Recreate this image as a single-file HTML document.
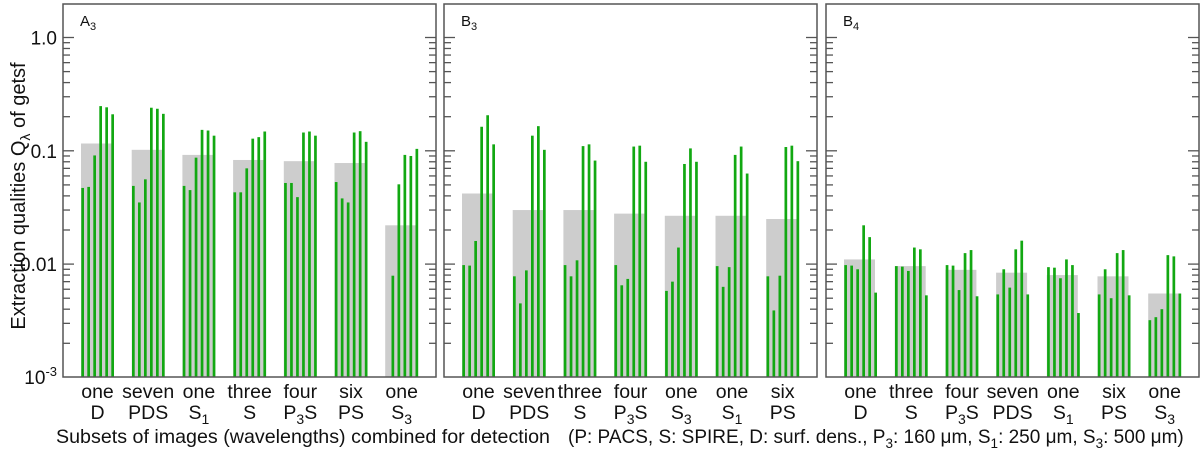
<!DOCTYPE html>
<html><head><meta charset="utf-8"><style>
html,body{margin:0;padding:0;background:#fff;}
svg{display:block;font-family:"Liberation Sans",Arial,sans-serif;}
</style></head><body>
<svg id="chart" width="1200" height="450" viewBox="0 0 1200 450"></svg>
<script>
const panelNames = ["A", "B", "B"];
const panelSubs = ["3", "3", "4"];
const catTop = [
  ["one","seven","one","three","four","six","one"],
  ["one","seven","three","four","one","one","six"],
  ["one","three","four","seven","one","six","one"]
];
const catBot = [
  [["D",""],["PDS",""],["S","1"],["S",""],["P","3","S"],["PS",""],["S","3"]],
  [["D",""],["PDS",""],["S",""],["P","3","S"],["S","3"],["S","1"],["PS",""]],
  [["D",""],["S",""],["P","3","S"],["PDS",""],["S","1"],["PS",""],["S","3"]]
];
const grayA = [0.116,0.102,0.092,0.083,0.081,0.078,0.022];
const grayB = [0.042,0.030,0.030,0.0279,0.0267,0.0267,0.025];
const grayC = [0.011,0.0096,0.0089,0.0084,0.008,0.0078,0.0055];
const barsA = [
  [0.047,0.048,0.091,0.248,0.242,0.21],
  [0.049,0.035,0.056,0.24,0.235,0.212],
  [0.049,0.045,0.087,0.153,0.151,0.136],
  [0.043,0.043,0.07,0.128,0.132,0.148],
  [0.052,0.052,0.039,0.145,0.148,0.136],
  [0.053,0.038,0.035,0.145,0.149,0.12],
  [null,0.0079,0.0506,0.092,0.09,0.104]
];
const barsB = [
  [0.0098,0.0097,0.016,0.163,0.206,0.114],
  [0.0078,0.0045,0.0088,0.136,0.165,0.102],
  [0.0098,0.0078,0.0108,0.110,0.114,0.082],
  [0.0098,0.0065,0.0074,0.109,0.111,0.080],
  [0.0058,0.007,0.014,0.0765,0.105,0.08],
  [0.0096,0.0063,0.0094,0.092,0.109,0.063],
  [0.0078,0.0039,0.0079,0.108,0.111,0.081]
];
const barsC = [
  [0.0098,0.0097,0.009,0.022,0.0173,0.0056],
  [0.0096,0.0095,0.0087,0.014,0.0135,0.0053],
  [0.0098,0.0097,0.0059,0.0125,0.0133,0.0052],
  [0.0054,0.009,0.0062,0.0135,0.0161,0.0054],
  [0.0094,0.0093,0.0075,0.011,0.0098,0.0037],
  [0.0054,0.009,0.005,0.0125,0.0133,0.0053],
  [0.0032,0.0034,0.004,0.012,0.0117,0.0055]
];
const yTickVals = [1, 0.1, 0.01];
const yTickLabels = ["1.0", "0.1", "0.01"];

const NS = "http://www.w3.org/2000/svg";
const svg = document.getElementById("chart");
const panelLeft = [63, 444, 826];
const panelW = 373;
const top0 = 4, bottom0 = 377;
function y(v){ return 37.5 - Math.log10(v) * 113.3; }
function mk(tag, attrs, parent){
  const e = document.createElementNS(NS, tag);
  for (const k in attrs) e.setAttribute(k, attrs[k]);
  (parent || svg).appendChild(e);
  return e;
}
const grays = [grayA, grayB, grayC];
const bars = [barsA, barsB, barsC];

for (let p = 0; p < 3; p++) {
  const L = panelLeft[p], R = L + panelW;
  const g = mk("g", {});
  
  
  for (let c = 0; c < 7; c++) {
    const gs = L + 18 + c * 50.7;
    const gv = grays[p][c];
    const gr = mk("rect", {x: gs, y: y(gv), width: 31, height: bottom0 - y(gv), fill: "#cdcdcd"}, g);
    
    
    for (let i = 0; i < 6; i++) {
      const v = bars[p][c][i];
      if (v == null) continue;
      const b = mk("rect", {x: gs + 0.3 + 6 * i, y: y(v), width: 2.7, height: bottom0 - y(v), fill: "#12a812"}, g);
      
      
    }
    const cx = gs + 16.5;
    const t1 = mk("text", {x: cx, y: 398, "font-size": 19.5, "text-anchor": "middle", fill: "#111"}, g);
    t1.textContent = catTop[p][c];
    
    
    const lb = catBot[p][c];
    const t2 = mk("text", {x: cx, y: 419, "font-size": 19.5, "text-anchor": "middle", fill: "#111"}, g);
    
    
    const s1 = mk("tspan", {}, t2); s1.textContent = lb[0];
    if (lb[1]) { const s2 = mk("tspan", {dy: 5, "font-size": 14}, t2); s2.textContent = lb[1]; }
    if (lb[2]) { const s3 = mk("tspan", {dy: -5}, t2); s3.textContent = lb[2]; }
  }
  for (let d = -3; d <= 0; d++) {
    for (let m = 1; m <= 9; m++) {
      const v = m * Math.pow(10, d);
      if (v > 1.9 || (d === -3 && m === 1)) continue;
      const yy = y(v);
      const len = m === 1 ? 11 : 7;
      mk("line", {x1: L, x2: L + len, y1: yy, y2: yy, stroke: "#555", "stroke-width": 1.3}, g);
      mk("line", {x1: R, x2: R - len, y1: yy, y2: yy, stroke: "#555", "stroke-width": 1.3}, g);
    }
  }
  const fr = mk("rect", {x: L, y: top0, width: panelW, height: bottom0 - top0, fill: "none", stroke: "#555", "stroke-width": 1.5}, g);
  
  
  const pl = mk("text", {x: L + 17, y: 26, "font-size": 15, fill: "#111"}, g);
  
  
  const a = mk("tspan", {}, pl); a.textContent = panelNames[p];
  const b2 = mk("tspan", {dy: 4, "font-size": 11}, pl); b2.textContent = panelSubs[p];
}
for (let i = 0; i < yTickVals.length; i++) {
  const t = mk("text", {x: 57, y: y(yTickVals[i]) + 7, "font-size": 19, "text-anchor": "end", fill: "#111"});
  t.textContent = yTickLabels[i];
  
  
}
</script>
<div style="position:absolute;left:0;top:0;width:1200px;height:450px;pointer-events:none">
<svg width="1200" height="450" style="position:absolute;left:0;top:0">
  <text x="57" y="384" font-size="19" text-anchor="end" fill="#111">10<tspan dy="-8" font-size="13">-3</tspan></text>
  <text transform="translate(25,196) rotate(-90)" font-size="20" text-anchor="middle" fill="#111">Extraction qualities  Q<tspan dy="5" font-size="14">λ</tspan><tspan dy="-5"> of getsf</tspan></text>
  <text x="56" y="443" font-size="19.5" fill="#111" textLength="494" lengthAdjust="spacingAndGlyphs">Subsets of images (wavelengths) combined for detection</text>
  <text x="568" y="443" font-size="19" fill="#111">(P: PACS, S: SPIRE, D: surf. dens., P<tspan dy="5" font-size="13.5">3</tspan><tspan dy="-5">: 160 μm, S</tspan><tspan dy="5" font-size="13.5">1</tspan><tspan dy="-5">: 250 μm, S</tspan><tspan dy="5" font-size="13.5">3</tspan><tspan dy="-5">: 500 μm)</tspan></text>
</svg>
</div>
</body></html>
